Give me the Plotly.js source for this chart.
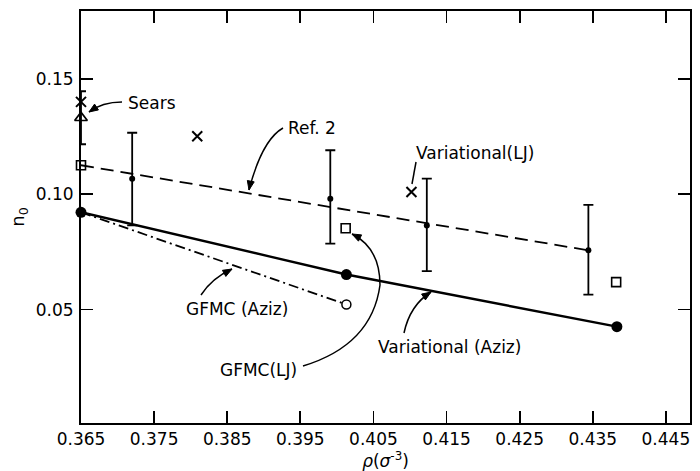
<!DOCTYPE html>
<html>
<head>
<meta charset="utf-8">
<script src="https://cdn.plot.ly/plotly-3.0.1.min.js"></script>
<style>html,body{margin:0;padding:0;background:#fff;}#plot{width:700px;height:471px;}</style>
</head>
<body>
<div id="plot"></div>
<script>
// ---- data ----
const rhoTicks = [0.365, 0.375, 0.385, 0.395, 0.405, 0.415, 0.425, 0.435, 0.445];
const rhoTickText = ["0.365", "0.375", "0.385", "0.395", "0.405", "0.415", "0.425", "0.435", "0.445"];
const nTicks = [0.05, 0.10, 0.15];
const nTickText = ["0.05", "0.10", "0.15"];

// Variational (Aziz): solid line with filled circles
const varAzizRho = [0.365, 0.4013, 0.4383];
const varAzizN = [0.0922, 0.0652, 0.0426];
// GFMC (Aziz): dash-dot line, open circle at end
const gfmcAzizRho = [0.365, 0.4013];
const gfmcAzizN = [0.0922, 0.0522];
// Ref. 2: dashed line
const ref2Rho = [0.365, 0.4344];
const ref2N = [0.1126, 0.0757];
// points with error bars
const errRho = [0.3720, 0.3991, 0.4123, 0.4344];
const errN = [0.1067, 0.0981, 0.0865, 0.0757];
const errPlus = [0.0200, 0.0210, 0.0203, 0.0197];
const errMinus = [0.0202, 0.0195, 0.0198, 0.0192];
// GFMC (LJ): open squares
const sqRho = [0.365, 0.4012, 0.4382];
const sqN = [0.1126, 0.0853, 0.0619];
// Variational (LJ) / Sears crosses
const crossRho = [0.365, 0.3809, 0.4102];
const crossN = [0.1401, 0.1252, 0.1010];
// Sears triangle with error bar
const triRho = [0.365];
const triN = [0.1332];
const triErr = [0.0115];
// GFMC (Aziz) open circle
const openRho = [0.4013];
const openN = [0.0522];

// ---- layout geometry ----
const W = 700, H = 471;
const L = 81, R = 690, T = 11, B = 423;
const xr = [0.365, 0.4483];
const yr = [0.0008, 0.1795];
function dx(px){ return xr[0] + (px - L) / (R - L) * (xr[1] - xr[0]); }
function dy(py){ return yr[0] + (B - py) / (B - T) * (yr[1] - yr[0]); }
function path(cmds){
  return cmds.map(c => {
    let s = c[0];
    for (let i = 1; i < c.length; i += 2) s += (i > 1 ? ' ' : '') + dx(c[i]) + ',' + dy(c[i+1]);
    return s;
  }).join(' ');
}

const black = '#000';
const F = 'DejaVu Sans, sans-serif';

const traces = [
  {x: varAzizRho, y: varAzizN, mode: 'lines+markers', line: {color: black, width: 2.4},
   marker: {symbol: 'circle', size: 11, color: black}, cliponaxis: false},
  {x: gfmcAzizRho, y: gfmcAzizN, mode: 'lines', line: {color: black, width: 1.8, dash: '10px,4px,2px,4px'}, cliponaxis: false},
  {x: ref2Rho, y: ref2N, mode: 'lines', line: {color: black, width: 1.8, dash: '13px,7px'}, cliponaxis: false},
  {x: errRho, y: errN, mode: 'markers', marker: {symbol: 'circle', size: 6, color: black},
   error_y: {type: 'data', symmetric: false, array: errPlus, arrayminus: errMinus, color: black, thickness: 1.8, width: 5},
   cliponaxis: false},
  {x: sqRho, y: sqN, mode: 'markers', marker: {symbol: 'square-open', size: 9, color: black, line: {width: 1.6}}, cliponaxis: false},
  {x: crossRho, y: crossN, mode: 'markers', marker: {symbol: 'x-thin-open', size: 10, color: black, line: {width: 2, color: black}}, cliponaxis: false},
  {x: triRho, y: triN, mode: 'markers', marker: {symbol: 'triangle-up-open', size: 11, color: black, line: {width: 1.7}},
   error_y: {type: 'data', array: triErr, color: black, thickness: 1.8, width: 5}, cliponaxis: false},
  {x: openRho, y: openN, mode: 'markers', marker: {symbol: 'circle', size: 9, color: '#fff', line: {width: 1.5, color: black}}, cliponaxis: false}
];

const curveLine = {color: black, width: 1.5};
function head(px, py, fx, fy){
  const len = Math.hypot(fx, fy), ux = fx / len, uy = fy / len;
  const Lh = 9, Wh = 3.5;
  const bx = px + ux * Lh, by = py + uy * Lh;
  const p1x = bx - uy * Wh, p1y = by + ux * Wh;
  const p2x = bx + uy * Wh, p2y = by - ux * Wh;
  return {type: 'path', xref: 'x', yref: 'y', fillcolor: black, line: {color: black, width: 1},
          path: path([['M', px, py], ['L', p1x, p1y], ['L', p2x, p2y]]) + ' Z'};
}
const shapes = [
  {type: 'path', xref: 'x', yref: 'y', line: curveLine, path: path([['M', 122, 102], ['Q', 102, 102, 89, 112]])},
  {type: 'path', xref: 'x', yref: 'y', line: curveLine, path: path([['M', 283, 128], ['Q', 262, 140, 249, 190]])},
  {type: 'path', xref: 'x', yref: 'y', line: curveLine, path: path([['M', 416, 162], ['L', 412, 184]])},
  {type: 'path', xref: 'x', yref: 'y', line: curveLine, path: path([['M', 201, 295], ['Q', 212, 278, 232, 269]])},
  {type: 'path', xref: 'x', yref: 'y', line: curveLine, path: path([['M', 303, 366], ['Q', 372, 345, 380, 285], ['Q', 380, 248, 352, 234]])},
  {type: 'path', xref: 'x', yref: 'y', line: curveLine, path: path([['M', 404, 333], ['Q', 410, 305, 431, 292]])},
  head(89, 112, 9, -6),
  head(249, 190, 2, -10),
  head(232, 269, -9, 5),
  head(352, 234, 10, 5),
  head(431, 292, -9, 6)
];

function label(px, py, txt){
  return {x: dx(px), y: dy(py), xref: 'x', yref: 'y', text: txt, showarrow: false,
          font: {family: F, size: 17, color: black}, xanchor: 'center', yanchor: 'middle'};
}

const annotations = [
  label(152, 103, 'Sears'),
  label(312, 128, 'Ref. 2'),
  label(475, 153, 'Variational(LJ)'),
  label(237, 309, 'GFMC (Aziz)'),
  label(258, 370, 'GFMC(LJ)'),
  label(449, 347, 'Variational (Aziz)')
];

const axisCommon = {showgrid: false, zeroline: false, showline: true, linecolor: black, linewidth: 2,
  mirror: 'ticks', ticks: 'inside', ticklen: 12, tickwidth: 1.8, tickcolor: black,
  tickfont: {family: F, size: 17, color: black}, fixedrange: true, automargin: false};

const layout = {
  width: W, height: H,
  margin: {l: L, r: W - R, t: T, b: H - B, pad: 0},
  paper_bgcolor: '#fff', plot_bgcolor: '#fff',
  showlegend: false,
  xaxis: Object.assign({}, axisCommon, {range: xr, tickmode: 'array', tickvals: rhoTicks, ticktext: rhoTickText,
    title: {text: '<i>ρ</i>(<i>σ</i><sup>-3</sup>)', font: {family: F, size: 17, color: black}, standoff: 4}}),
  yaxis: Object.assign({}, axisCommon, {range: yr, tickmode: 'array', tickvals: nTicks, ticktext: nTickText, ticklabelstandoff: 2,
    title: {text: 'n<sub>0</sub>', font: {family: F, size: 18, color: black}, standoff: 6}}),
  shapes: shapes,
  annotations: annotations
};

Plotly.newPlot('plot', traces, layout, {displayModeBar: false, staticPlot: true});
</script>
</body>
</html>
